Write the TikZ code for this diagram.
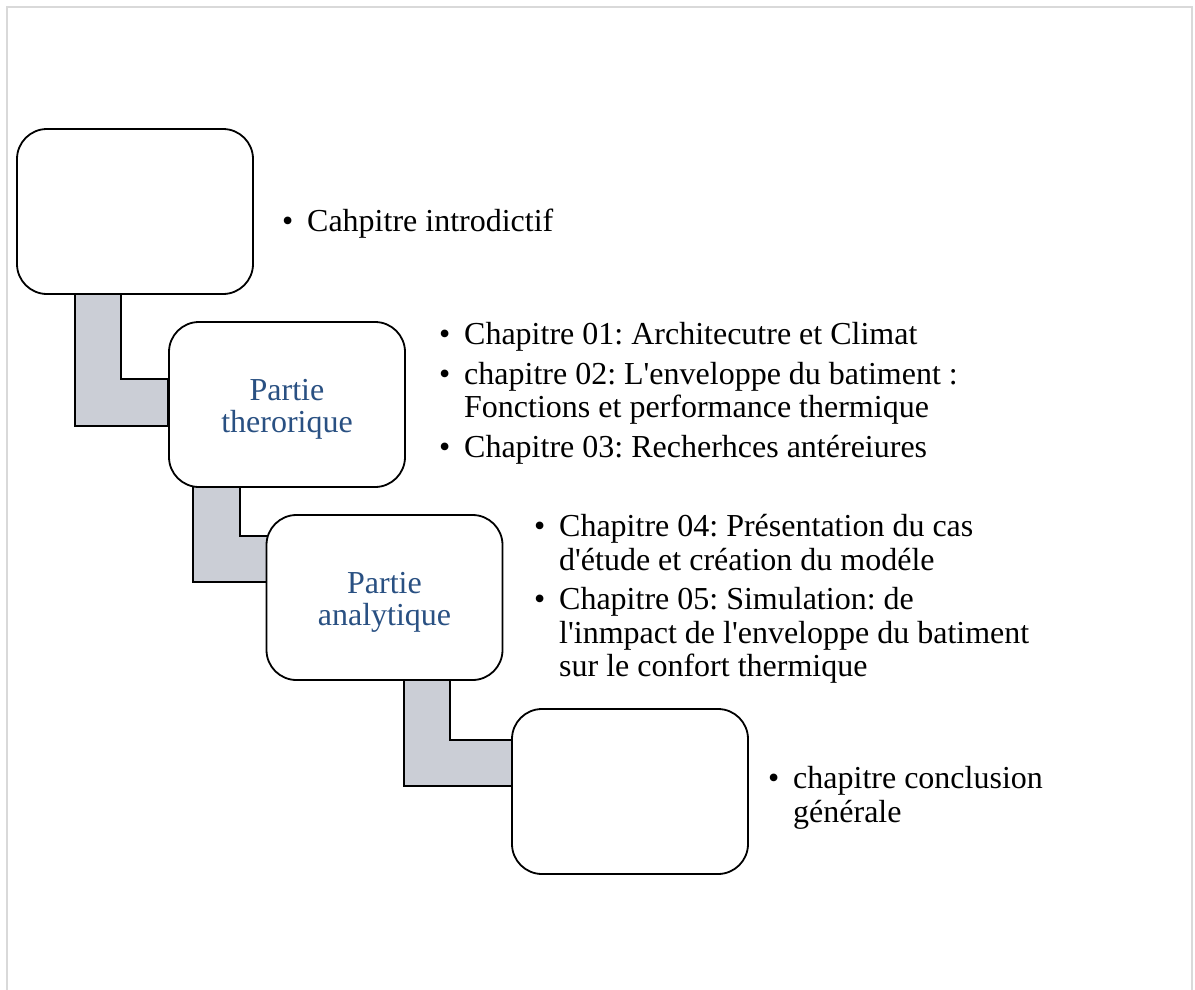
\documentclass[tikz,border=0pt]{standalone}
\usepackage{fontspec}
\setmainfont{Liberation Serif}[Ligatures=TeXOff]
\usetikzlibrary{backgrounds}
\definecolor{partblue}{RGB}{41,80,130}
\definecolor{linkgray}{RGB}{203,206,214}
\definecolor{framegray}{RGB}{217,217,217}
\newcommand{\puce}{\makebox[25pt][l]{\textbullet}}
\newcommand{\suite}{\hspace*{25pt}}
\frenchspacing
\begin{document}
\begin{tikzpicture}[x=1pt, y=-1pt,
        partbox/.style={draw, line width=1.8pt, fill=white, rounded corners=30pt, minimum width=236pt, minimum height=165pt, align=center, text=partblue, font=\fontsize{32}{32}\selectfont},
        chaplist/.style={anchor=north west, inner sep=0pt, align=left, font=\fontsize{32}{33.5}\selectfont},
        linkbar/.style={draw, line width=1.8pt, fill=linkgray}]
    \useasboundingbox (0,0) rectangle (1195,990);
    \draw[framegray, line width=2pt] (7,990) -- (7,7) -- (1192,7) -- (1192,990);
    % the four parts
    \node[partbox] (intro) at (135,211.5) {};
    \node[partbox] (theo) at (287,404.5) {\rule{0pt}{30pt}Partie\\therorique};
    \node[partbox] (analy) at (384.5,597.5) {\rule{0pt}{30pt}Partie\\analytique};
    \node[partbox] (concl) at (630,791.5) {};
    % L-shaped links
    \begin{scope}[on background layer]
        \draw[linkbar] ([xshift=59pt, yshift=10pt]intro.south west) |- ([yshift=-105pt]theo.north west) -- ([yshift=-58pt]theo.north west) -| ([xshift=105pt, yshift=10pt]intro.south west) -- cycle;
        \draw[linkbar] ([xshift=25pt, yshift=10pt]theo.south west) |- ([xshift=10pt, yshift=-68pt]analy.north west) -- ([xshift=10pt, yshift=-22pt]analy.north west) -| ([xshift=72pt, yshift=10pt]theo.south west) -- cycle;
        \draw[linkbar] ([xshift=138pt, yshift=10pt]analy.south west) |- ([xshift=10pt, yshift=-78pt]concl.north west) -- ([xshift=10pt, yshift=-32pt]concl.north west) -| ([xshift=184pt, yshift=10pt]analy.south west) -- cycle;
    \end{scope}
    % chapter lists
    \node[chaplist] (intro-list) at (282,208.5) {\puce Cahpitre introdictif};
    \node[chaplist] (theo-list) at (439,322.5) {\puce Chapitre 01: Architecutre et Climat\\[6pt]\puce chapitre 02: L'enveloppe du batiment :\\\suite Fonctions et performance thermique\\[6pt]\puce Chapitre 03: Recherhces antéreiures};
    \node[chaplist] (analy-list) at (534,514.5) {\puce Chapitre 04: Présentation du cas\\\suite d'étude et création du modéle\\[6pt]\puce Chapitre 05: Simulation: de\\\suite l'inmpact de l'enveloppe du batiment\\\suite sur le confort thermique};
    \node[chaplist] (concl-list) at (768,766.5) {\puce chapitre conclusion\\\suite générale};
\end{tikzpicture}
\end{document}
